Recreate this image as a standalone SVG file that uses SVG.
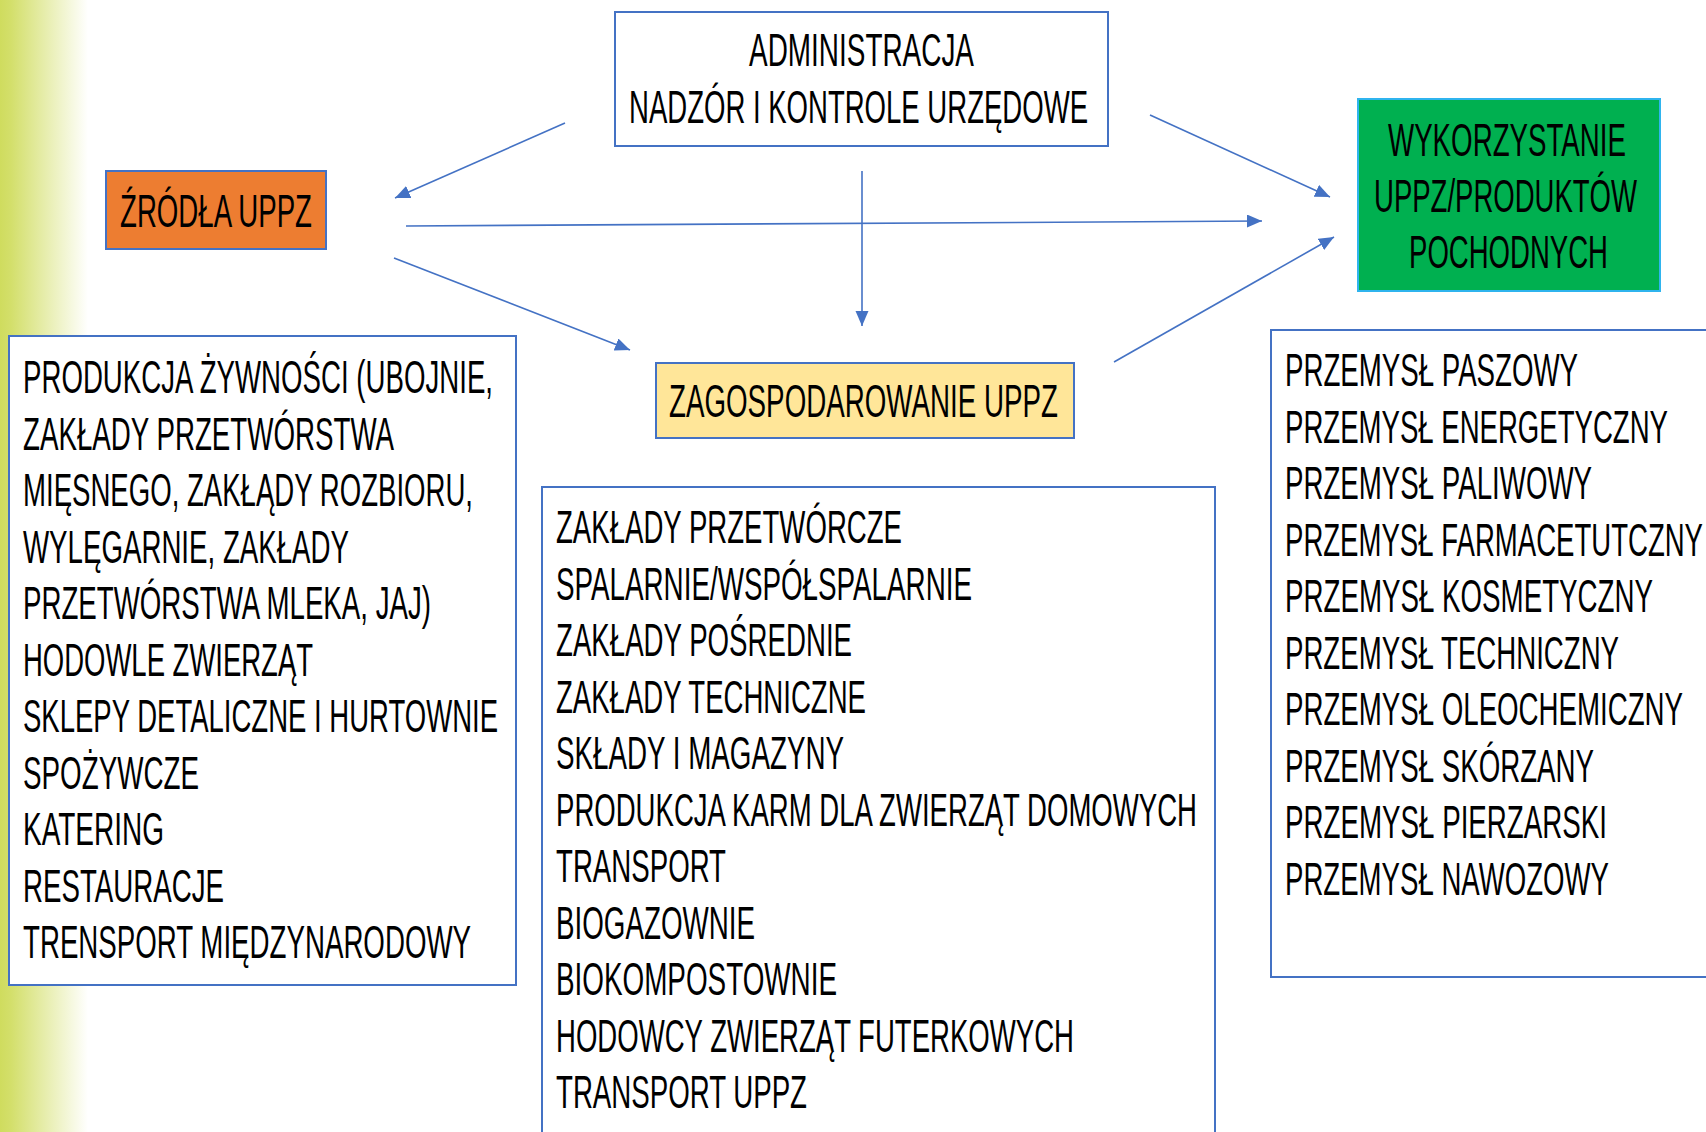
<svg xmlns="http://www.w3.org/2000/svg" width="1706" height="1132" viewBox="0 0 1706 1132">
<style>
.t{font-family:"Liberation Sans",Arial,sans-serif;font-size:47px;fill:#000}
.box{stroke:#4472C4;stroke-width:2}
.conn{stroke:#4472C4;stroke-width:1.6;fill:none;marker-end:url(#ah)}
</style>
<defs>
<linearGradient id="bg" gradientUnits="userSpaceOnUse" x1="0" y1="0" x2="88" y2="0">
<stop offset="0" stop-color="#CFDC5E"/>
<stop offset="0.12" stop-color="#D3DF6A"/>
<stop offset="1" stop-color="#FFFFFF"/>
</linearGradient>
<marker id="ah" markerUnits="userSpaceOnUse" markerWidth="16" markerHeight="14" refX="15" refY="6.5" orient="auto">
<path d="M0,0 L15,6.5 L0,13 z" fill="#4472C4"/>
</marker>
</defs>
<rect x="0" y="0" width="1706" height="1132" fill="#FFFFFF"/>
<rect x="0" y="0" width="90" height="1132" fill="url(#bg)"/>

<g id="connectors">
<line class="conn" x1="565" y1="123" x2="395" y2="198"/>
<line class="conn" x1="406" y1="226" x2="1262" y2="221"/>
<line class="conn" x1="394" y1="258" x2="630" y2="350"/>
<line class="conn" x1="862" y1="171" x2="862" y2="326"/>
<line class="conn" x1="1150" y1="115" x2="1330" y2="197"/>
<line class="conn" x1="1114" y1="362" x2="1334" y2="237"/>
</g>

<g id="administracja">
<rect class="box" x="615" y="12" width="493" height="134" fill="#FFFFFF"/>
<text class="t" x="749" y="66" textLength="225" lengthAdjust="spacingAndGlyphs">ADMINISTRACJA</text>
<text class="t" x="629" y="123" textLength="459" lengthAdjust="spacingAndGlyphs">NADZÓR I KONTROLE URZĘDOWE</text>
</g>

<g id="zrodla">
<rect class="box" x="106" y="171" width="220" height="78" fill="#ED7D31"/>
<text class="t" x="120" y="227" textLength="192" lengthAdjust="spacingAndGlyphs">ŹRÓDŁA UPPZ</text>
</g>

<g id="wykorzystanie">
<rect x="1358" y="99" width="302" height="192" fill="#00B050" stroke="#2FB4EE" stroke-width="2"/>
<text class="t" x="1388" y="156" textLength="238" lengthAdjust="spacingAndGlyphs">WYKORZYSTANIE</text>
<text class="t" x="1374" y="212" textLength="263" lengthAdjust="spacingAndGlyphs">UPPZ/PRODUKTÓW</text>
<text class="t" x="1409" y="268" textLength="199" lengthAdjust="spacingAndGlyphs">POCHODNYCH</text>
</g>

<g id="zagospodarowanie">
<rect class="box" x="656" y="363" width="418" height="75" fill="#FFE699"/>
<text class="t" x="669" y="417" textLength="389" lengthAdjust="spacingAndGlyphs">ZAGOSPODAROWANIE UPPZ</text>
</g>

<g id="zrodla-lista">
<rect class="box" x="9" y="336" width="507" height="649" fill="#FFFFFF"/>
<text class="t" x="23" y="393" textLength="470" lengthAdjust="spacingAndGlyphs">PRODUKCJA ŻYWNOŚCI (UBOJNIE,</text>
<text class="t" x="23" y="449.5" textLength="371" lengthAdjust="spacingAndGlyphs">ZAKŁADY PRZETWÓRSTWA</text>
<text class="t" x="23" y="506" textLength="450" lengthAdjust="spacingAndGlyphs">MIĘSNEGO, ZAKŁĄDY ROZBIORU,</text>
<text class="t" x="23" y="562.5" textLength="326" lengthAdjust="spacingAndGlyphs">WYLĘGARNIE, ZAKŁADY</text>
<text class="t" x="23" y="619" textLength="408" lengthAdjust="spacingAndGlyphs">PRZETWÓRSTWA MLEKA, JAJ)</text>
<text class="t" x="23" y="675.5" textLength="290" lengthAdjust="spacingAndGlyphs">HODOWLE ZWIERZĄT</text>
<text class="t" x="23" y="732" textLength="475" lengthAdjust="spacingAndGlyphs">SKLEPY DETALICZNE I HURTOWNIE</text>
<text class="t" x="23" y="788.5" textLength="176" lengthAdjust="spacingAndGlyphs">SPOŻYWCZE</text>
<text class="t" x="23" y="845" textLength="141" lengthAdjust="spacingAndGlyphs">KATERING</text>
<text class="t" x="23" y="901.5" textLength="201" lengthAdjust="spacingAndGlyphs">RESTAURACJE</text>
<text class="t" x="23" y="958" textLength="448" lengthAdjust="spacingAndGlyphs">TRENSPORT MIĘDZYNARODOWY</text>
</g>

<g id="zagospodarowanie-lista">
<rect class="box" x="542" y="487" width="673" height="660" fill="#FFFFFF"/>
<text class="t" x="556" y="543" textLength="346" lengthAdjust="spacingAndGlyphs">ZAKŁADY PRZETWÓRCZE</text>
<text class="t" x="556" y="599.5" textLength="416" lengthAdjust="spacingAndGlyphs">SPALARNIE/WSPÓŁSPALARNIE</text>
<text class="t" x="556" y="656" textLength="296" lengthAdjust="spacingAndGlyphs">ZAKŁADY POŚREDNIE</text>
<text class="t" x="556" y="712.5" textLength="310" lengthAdjust="spacingAndGlyphs">ZAKŁADY TECHNICZNE</text>
<text class="t" x="556" y="769" textLength="288" lengthAdjust="spacingAndGlyphs">SKŁADY I MAGAZYNY</text>
<text class="t" x="556" y="825.5" textLength="641" lengthAdjust="spacingAndGlyphs">PRODUKCJA KARM DLA ZWIERZĄT DOMOWYCH</text>
<text class="t" x="556" y="882" textLength="170" lengthAdjust="spacingAndGlyphs">TRANSPORT</text>
<text class="t" x="556" y="938.5" textLength="199" lengthAdjust="spacingAndGlyphs">BIOGAZOWNIE</text>
<text class="t" x="556" y="995" textLength="281" lengthAdjust="spacingAndGlyphs">BIOKOMPOSTOWNIE</text>
<text class="t" x="556" y="1051.5" textLength="518" lengthAdjust="spacingAndGlyphs">HODOWCY ZWIERZĄT FUTERKOWYCH</text>
<text class="t" x="556" y="1108" textLength="251" lengthAdjust="spacingAndGlyphs">TRANSPORT UPPZ</text>
</g>

<g id="wykorzystanie-lista">
<rect class="box" x="1271" y="330" width="450" height="647" fill="#FFFFFF"/>
<text class="t" x="1285" y="386" textLength="293" lengthAdjust="spacingAndGlyphs">PRZEMYSŁ PASZOWY</text>
<text class="t" x="1285" y="442.5" textLength="383" lengthAdjust="spacingAndGlyphs">PRZEMYSŁ ENERGETYCZNY</text>
<text class="t" x="1285" y="499" textLength="307" lengthAdjust="spacingAndGlyphs">PRZEMYSŁ PALIWOWY</text>
<text class="t" x="1285" y="555.5" textLength="418" lengthAdjust="spacingAndGlyphs">PRZEMYSŁ FARMACETUTCZNY</text>
<text class="t" x="1285" y="612" textLength="368" lengthAdjust="spacingAndGlyphs">PRZEMYSŁ KOSMETYCZNY</text>
<text class="t" x="1285" y="668.5" textLength="334" lengthAdjust="spacingAndGlyphs">PRZEMYSŁ TECHNICZNY</text>
<text class="t" x="1285" y="725" textLength="398" lengthAdjust="spacingAndGlyphs">PRZEMYSŁ OLEOCHEMICZNY</text>
<text class="t" x="1285" y="781.5" textLength="309" lengthAdjust="spacingAndGlyphs">PRZEMYSŁ SKÓRZANY</text>
<text class="t" x="1285" y="838" textLength="322" lengthAdjust="spacingAndGlyphs">PRZEMYSŁ PIERZARSKI</text>
<text class="t" x="1285" y="894.5" textLength="324" lengthAdjust="spacingAndGlyphs">PRZEMYSŁ NAWOZOWY</text>
</g>
</svg>
